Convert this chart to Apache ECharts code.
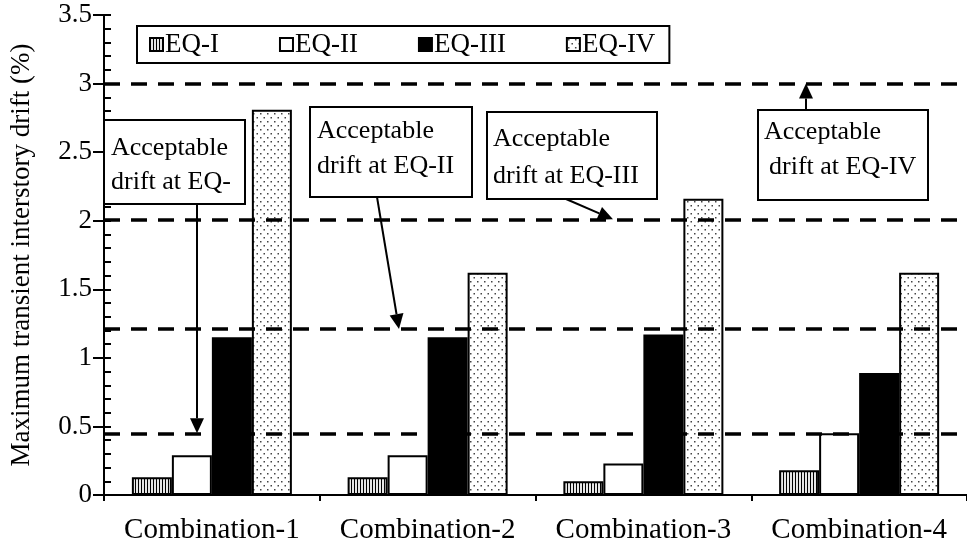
<!DOCTYPE html>
<html>
<head>
<meta charset="utf-8">
<script src="https://cdn.jsdelivr.net/npm/echarts@6/dist/echarts.min.js"></script>
<style>html,body{margin:0;padding:0;background:#fff}#c{width:967px;height:556px}</style>
</head>
<body>
<div id="c"></div>
<script>
const categories = ['Combination-1', 'Combination-2', 'Combination-3', 'Combination-4'];
const seriesNames = ['EQ-I', 'EQ-II', 'EQ-III', 'EQ-IV'];
const eq1 = [0.13, 0.13, 0.10, 0.18];
const eq2 = [0.29, 0.29, 0.23, 0.45];
const eq3 = [1.15, 1.15, 1.17, 0.89];
const eq4 = [2.81, 1.62, 2.16, 1.62];
const thresholds = [0.45, 1.21, 2.01, 3.0];
const boxLines = [
  ['Acceptable', 'drift at EQ-'],
  ['Acceptable', 'drift at EQ-II'],
  ['Acceptable', 'drift at EQ-III'],
  ['Acceptable', 'drift at EQ-IV']
];

const FONT = '"Liberation Serif", "Times New Roman", serif';

function stripePattern() {
  const c = document.createElement('canvas');
  c.width = 3; c.height = 3;
  const g = c.getContext('2d');
  g.fillStyle = '#e6e6e6'; g.fillRect(0, 0, 3, 3);
  g.fillStyle = '#000'; g.fillRect(0, 0, 1, 3);
  return c;
}
function dotPattern() {
  const c = document.createElement('canvas');
  c.width = 7; c.height = 8;
  const g = c.getContext('2d');
  g.fillStyle = '#fff'; g.fillRect(0, 0, 7, 8);
  g.fillStyle = '#444';
  g.fillRect(1, 1, 1.5, 1.5);
  g.fillRect(4.5, 5, 1.5, 1.5);
  return c;
}

const fills = [
  { image: stripePattern(), repeat: 'repeat' },
  '#ffffff',
  '#000000',
  { image: dotPattern(), repeat: 'repeat' }
];
const values = [eq1, eq2, eq3, eq4];

const chart = echarts.init(document.getElementById('c'), null, { renderer: 'canvas' });

const series = values.map((v, i) => ({
  name: seriesNames[i],
  type: 'bar',
  data: v,
  barWidth: 40,
  barGap: '0%',
  itemStyle: { color: fills[i], borderColor: '#000', borderWidth: 2 },
  emphasis: { disabled: true },
  z: 2
}));
series[3].markLine = {
  silent: true,
  symbol: 'none',
  z: 10,
  label: { show: false },
  lineStyle: { color: '#000', width: 3.5, type: [16, 11] },
  data: thresholds.map(t => ({ yAxis: t }))
};

chart.setOption({
  animation: false,
  backgroundColor: '#fff',
  textStyle: { fontFamily: FONT, color: '#000' },
  grid: { left: 104, top: 15, width: 872, height: 480, containLabel: false },
  legend: {
    left: 137, top: 26,
    icon: 'rect',
    itemWidth: 13, itemHeight: 13,
    itemGap: 60,
    padding: [5, 14, 5, 12],
    borderColor: '#000', borderWidth: 2,
    backgroundColor: '#fff',
    textStyle: { fontFamily: FONT, fontSize: 27, color: '#000', padding: [0, 0, 0, -3] },
    data: seriesNames
  },
  xAxis: [{
    type: 'category',
    data: categories,
    axisLine: { lineStyle: { color: '#000', width: 2 } },
    axisTick: { show: true, inside: false, length: 6, interval: 0, lineStyle: { color: '#000', width: 2 } },
    axisLabel: { fontFamily: FONT, fontSize: 29, color: '#000', margin: 21, interval: 0, hideOverlap: false },
    splitLine: { show: false }
  }, {
    type: 'category',
    data: categories,
    position: 'top',
    axisLine: { lineStyle: { color: '#000', width: 2 } },
    axisTick: { show: false },
    axisLabel: { show: false }
  }],
  yAxis: [{
    type: 'value',
    min: 0, max: 3.5, interval: 0.5,
    name: 'Maximum transient interstory drift (%)',
    nameLocation: 'middle',
    nameGap: 69,
    nameTextStyle: { fontFamily: FONT, fontSize: 27, color: '#000' },
    axisLine: { show: true, lineStyle: { color: '#000', width: 2 } },
    axisTick: { show: true, inside: true, length: 7, lineStyle: { color: '#000', width: 2 } },
    minorTick: { show: true, splitNumber: 5, length: 7, lineStyle: { color: '#000', width: 2 } },
    axisLabel: { fontFamily: FONT, fontSize: 27, color: '#000', margin: 12 },
    splitLine: { show: false }
  }, {
    type: 'value',
    min: 0, max: 3.5, interval: 0.5,
    position: 'left',
    axisLine: { show: true, lineStyle: { color: '#000', width: 2 } },
    axisTick: { show: true, inside: false, length: 11, lineStyle: { color: '#000', width: 2 } },
    axisLabel: { show: false },
    splitLine: { show: false }
  }],
  series: series
});

// annotation boxes and arrows
const boxes = [
  { x: 104, y: 120, w: 141, h: 84, tx: [111, 111], ty: [148, 182] },
  { x: 310, y: 107, w: 162, h: 90, tx: [317, 317], ty: [131, 166] },
  { x: 487, y: 112, w: 170, h: 87, tx: [493, 493], ty: [139, 176] },
  { x: 758, y: 110, w: 170, h: 90, tx: [764, 769], ty: [132, 167] }
];
const arrowStarts = [[197, 204], [377, 197], [566, 199], [806, 110]];
const arrowX = [197, 399, 613, 806];

const g = [];
boxes.forEach((b, i) => {
  g.push({ type: 'rect', shape: { x: b.x, y: b.y, width: b.w, height: b.h },
    style: { fill: '#fff', stroke: '#000', lineWidth: 2 }, z: 100 });
  boxLines[i].forEach((t, k) => {
    g.push({ type: 'text', x: b.tx[k], y: b.ty[k], z: 101,
      style: { text: t, font: '26px ' + FONT, fill: '#000', textVerticalAlign: 'middle', textAlign: 'left' } });
  });
});
thresholds.forEach((t, i) => {
  const sx = arrowStarts[i][0], sy = arrowStarts[i][1];
  const ex = arrowX[i];
  const ey = chart.convertToPixel({ yAxisIndex: 0 }, t);
  const dx = ex - sx, dy = ey - sy, L = Math.sqrt(dx * dx + dy * dy);
  const ux = dx / L, uy = dy / L;
  const hl = 15, hw = 7;
  const bx = ex - ux * hl, by = ey - uy * hl;
  g.push({ type: 'line', shape: { x1: sx, y1: sy, x2: bx, y2: by },
    style: { stroke: '#000', lineWidth: 2 }, z: 102 });
  g.push({ type: 'polygon', shape: { points: [[ex, ey], [bx - uy * hw, by + ux * hw], [bx + uy * hw, by - ux * hw]] },
    style: { fill: '#000' }, z: 102 });
});
chart.setOption({ graphic: g });
</script>
</body>
</html>
